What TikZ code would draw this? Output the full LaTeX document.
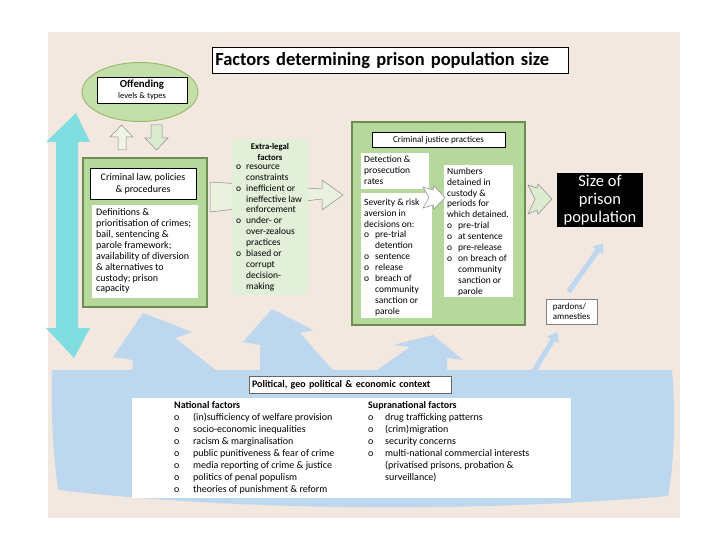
\documentclass[tikz,border=0pt]{standalone}
\usepackage{fontspec}
\setmainfont{Carlito}
\usetikzlibrary{arrows.meta,shapes.geometric,positioning}

\definecolor{bgbeige}{HTML}{F2E8E0}
\definecolor{boxgreen}{HTML}{B6D89C}
\definecolor{boxedge}{HTML}{6E8C52}
\definecolor{palegreen}{HTML}{E2EFD9}
\definecolor{ellipsegreen}{HTML}{C4DFA9}
\definecolor{ellipseedge}{HTML}{9BBB6A}
\definecolor{cyanarrow}{HTML}{80DEE0}
\definecolor{bandblue}{HTML}{BDD7EE}
\definecolor{arrowgray}{HTML}{8C8C8C}
\definecolor{paleup}{HTML}{EEF5E6}
\definecolor{paledown}{HTML}{DDEBD0}
\definecolor{palearrow}{HTML}{EAF1DF}

\newcommand{\obul}[1][11pt]{\makebox[#1][l]{o}}
\newcommand{\oind}[1][11pt]{\hspace*{#1}}

\begin{document}
\begin{tikzpicture}[x=1pt,y=-1pt,>=Triangle,
  greenbox/.style={draw=boxedge,line width=1.2pt,fill=boxgreen},
  whitebox/.style={draw=black,line width=0.6pt,fill=white},
  plainbox/.style={fill=white},
  hollow/.style={draw=arrowgray,line width=0.5pt},
  txt/.style={font=\fontsize{9.5}{10.9}\selectfont,align=left,inner sep=0pt},
  bigtxt/.style={font=\fontsize{10}{12}\selectfont,align=left,inner sep=0pt},
  thinblue/.style={draw=bandblue,line width=5pt,-{Triangle[width=13pt,length=9pt]}}]
  \useasboundingbox (0,0) rectangle (720,540);
  \fill[bgbeige] (48,32) rectangle (680,518);

  % title
  \node[whitebox,anchor=north west,minimum width=356pt,minimum height=26pt,
    text width=350pt,inner xsep=3pt,inner ysep=0pt,align=left,
    font=\fontsize{18.5}{20}\selectfont\bfseries] (title) at (212,47)
    {Factors determining prison population size};

  % offending
  \node[ellipse,draw=ellipseedge,line width=1pt,fill=ellipsegreen,
    minimum width=116pt,minimum height=59pt] (offend) at (140,92) {};
  \node[whitebox,minimum width=90pt,minimum height=26pt,align=center,inner sep=0pt,
    font=\fontsize{10.8}{11.5}\selectfont] (offendtxt) at (142,90)
    {\textbf{Offending}\\{\fontsize{8.5}{9}\selectfont levels \& types}};
  \draw[hollow,fill=paleup] (118,150) -- (118,137) -- (110,137) -- (121.5,125)
    -- (133,137) -- (126,137) -- (126,150) -- cycle;
  \draw[hollow,fill=paledown] (151,125) -- (162,125) -- (162,138) -- (168,138)
    -- (156.5,150) -- (145,138) -- (151,138) -- cycle;

  % left double arrow
  \fill[cyanarrow] (76,113) -- (90,142) -- (78,142) -- (78,328) -- (90,328)
    -- (74,358) -- (46,328) -- (56,328) -- (56,142) -- (46,142) -- cycle;

  % criminal law
  \node[greenbox,minimum width=124pt,minimum height=149pt] (critlaw) at (145,232.5) {};
  \node[whitebox,minimum width=106pt,minimum height=31pt,align=center,inner sep=0pt,
    font=\fontsize{10}{12}\selectfont] (critlawtitle) at (143,183.5)
    {Criminal law, policies\\\& procedures};
  \node[plainbox,minimum width=106pt,minimum height=93pt] (critlawbox) at (145,251.5) {};
  \node[txt,anchor=north west,font=\fontsize{10}{10.9}\selectfont] (critlawtext) at (96,208.5)
    {Definitions \&\\prioritisation of crimes;\\bail, sentencing \&\\parole framework;\\
     availability of diversion\\\& alternatives to\\custody; prison\\capacity};

  % arrow through extra-legal factors
  \draw[hollow,fill=palearrow] (210,182) -- (322,189) -- (322,180) -- (343,195)
    -- (322,210) -- (322,199) -- (210,212) -- cycle;

  % extra-legal
  \node[fill=palegreen,minimum width=76pt,minimum height=156pt] (extralegal) at (270,217) {};
  \node[font=\fontsize{8.7}{10.8}\selectfont\bfseries,align=center,inner sep=0pt,anchor=north]
    (extratitle) at (270,143) {Extra-legal\\factors};
  \node[txt,anchor=north west] (extratext) at (236,164.5)
    {\obul[10pt]resource\\\oind[10pt]constraints\\\obul[10pt]inefficient or\\
     \oind[10pt]ineffective law\\\oind[10pt]enforcement\\\obul[10pt]under- or\\
     \oind[10pt]over-zealous\\\oind[10pt]practices\\\obul[10pt]biased or\\
     \oind[10pt]corrupt\\\oind[10pt]decision-\\\oind[10pt]making};

  % criminal justice practices
  \node[greenbox,minimum width=173pt,minimum height=203pt] (cjp) at (438.5,223.5) {};
  \node[whitebox,minimum width=133pt,minimum height=15pt,inner sep=0pt,
    font=\fontsize{9}{10}\selectfont] (cjptitle) at (438.5,140)
    {Criminal justice practices};
  \node[plainbox,minimum width=68pt,minimum height=36pt] (detectbox) at (395,171) {};
  \node[txt,anchor=north west] (detecttext) at (364,155.5)
    {Detection \&\\prosecution\\rates};
  \node[plainbox,minimum width=71pt,minimum height=125pt] (severbox) at (396.5,255.5) {};
  \node[txt,anchor=north west] (severtext) at (364,198.5)
    {Severity \& risk\\aversion in\\decisions on:\\\obul pre-trial\\\oind detention\\
     \obul sentence\\\obul release\\\obul breach of\\\oind community\\
     \oind sanction or\\\oind parole};
  \node[plainbox,minimum width=69pt,minimum height=132pt] (numbox) at (478.5,231) {};
  \node[txt,anchor=north west] (numtext) at (447,167.5)
    {Numbers\\detained in\\custody \&\\periods for\\which detained.\\\obul pre-trial\\
     \obul at sentence\\\obul pre-release\\\obul on breach of\\\oind community\\
     \oind sanction or\\\oind parole};
  \draw[hollow,fill=white] (423,187) -- (433,190) -- (434,186) -- (445,197.5)
    -- (434,209) -- (433,205) -- (423,208) -- (429,197.5) -- cycle;

  % size of prison population
  \draw[hollow,fill=paledown] (528,185) -- (537,188) -- (538,184) -- (552,199)
    -- (538,214) -- (537,210) -- (528,214) -- (535,199) -- cycle;
  \node[fill=black,text=white,minimum width=86pt,minimum height=54pt,align=center,
    inner sep=0pt,font=\fontsize{16.5}{18}\selectfont] (size) at (600,200)
    {Size of\\prison\\population};
  \node[draw=gray,fill=white,line width=0.6pt,minimum width=51pt,minimum height=25pt,
    align=left,inner xsep=2pt,inner ysep=1pt,font=\fontsize{9}{10.5}\selectfont] (pardons) at (571.5,311.5)
    {pardons/\\amnesties};

  % political context band
  \fill[bandblue] (52,370) -- (672,370) .. controls (677,430) and (672,475) .. (668,496)
    .. controls (480,512) and (250,512) .. (58,490) .. controls (53,450) and (51,420) .. cycle;
  \fill[bandblue] (132,375) -- (133,360) -- (113,357) -- (143,313) -- (192,332)
    -- (175,338) -- (222,375) -- cycle;
  \fill[bandblue] (260,375) -- (260,345) -- (243,342) -- (272,309) -- (313,330)
    -- (300,333) -- (337,375) -- cycle;
  \fill[bandblue] (370,375) -- (410,347) -- (393,345) -- (433,335) -- (463,360)
    -- (447,358) -- (447,375) -- cycle;
  \coordinate (bandend) at (532,374);
  \draw[thinblue] (bandend) -- ([shift={(-14pt,-8pt)}]pardons.south);
  \draw[thinblue] ([shift={(-3pt,7pt)}]pardons.north) -- ([shift={(3pt,-16pt)}]size.south);

  \node[draw=gray!80!black,fill=white,line width=0.6pt,minimum width=202pt,minimum height=17pt,
    text width=196pt,inner xsep=3pt,inner ysep=0pt,align=left,
    font=\fontsize{10}{11}\selectfont\bfseries] (context) at (350,384.5)
    {Political, geo political \& economic context};
  \node[plainbox,minimum width=439pt,minimum height=100pt] (factorsbox) at (351.5,448) {};
  \node[bigtxt,anchor=north west] (national) at (174,401)
    {\textbf{National factors}\\\obul[19pt](in)sufficiency of welfare provision\\
     \obul[19pt]socio-economic inequalities\\\obul[19pt]racism \& marginalisation\\
     \obul[19pt]public punitiveness \& fear of crime\\\obul[19pt]media reporting of crime \& justice\\
     \obul[19pt]politics of penal populism\\\obul[19pt]theories of punishment \& reform};
  \node[bigtxt,anchor=north west] (supranational) at (368,401)
    {\textbf{Supranational factors}\\\obul[17pt]drug trafficking patterns\\
     \obul[17pt](crim)migration\\\obul[17pt]security concerns\\
     \obul[17pt]multi-national commercial interests\\\oind[17pt](privatised prisons, probation \&\\
     \oind[17pt]surveillance)};
\end{tikzpicture}
\end{document}
